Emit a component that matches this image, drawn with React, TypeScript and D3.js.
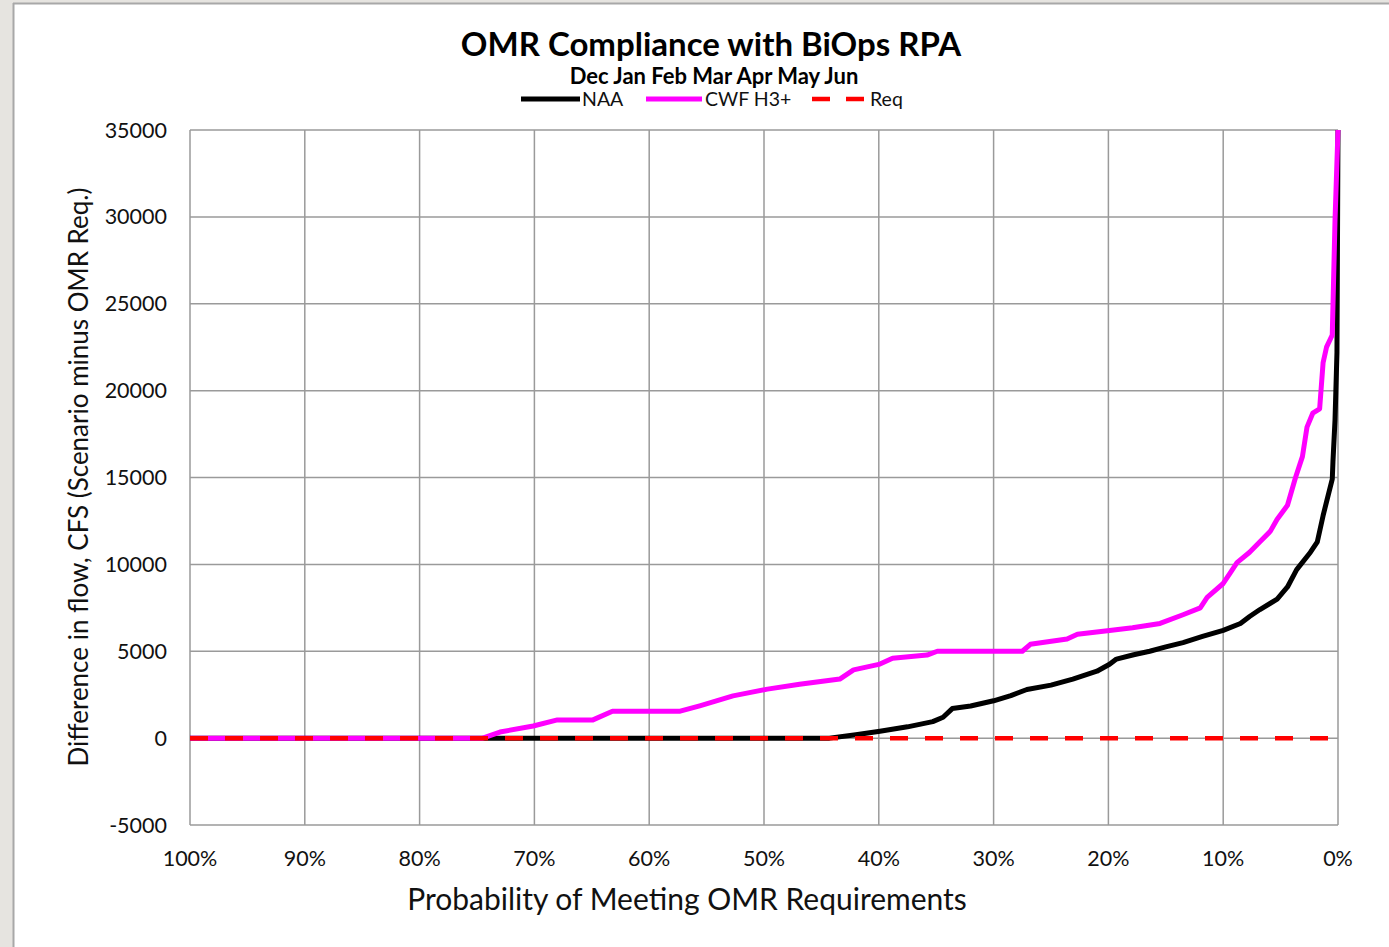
import React from "react";
import * as d3 from "d3";

// Exceedance probability (%) vs difference in flow (cfs)
const naaProb = [100, 44.3, 42.0, 39.9, 37.5, 35.3, 34.4, 33.6, 32.0, 30.0, 28.5, 27.1, 25.0, 23.1, 21.0, 19.9, 19.3, 17.8, 16.4, 15.0, 13.5, 11.8, 10.0, 8.5, 7.7, 6.8, 5.3, 4.4, 3.6, 2.4, 1.8, 1.3, 1.0, 0.5, 0.44, 0.26, 0.09, 0];
const naaVal = [0, 0, 200, 400, 650, 950, 1200, 1700, 1850, 2150, 2450, 2800, 3050, 3400, 3850, 4250, 4550, 4800, 5000, 5250, 5500, 5850, 6200, 6600, 7000, 7400, 8000, 8700, 9700, 10700, 11300, 12800, 13600, 14900, 15900, 18300, 22200, 35000];

const cwfProb = [100, 75.2, 74.5, 73.0, 70.1, 68.0, 64.9, 63.2, 57.3, 55.6, 52.7, 49.7, 46.9, 43.4, 42.2, 39.9, 38.8, 35.8, 34.9, 27.5, 26.8, 23.6, 22.7, 19.9, 17.9, 15.5, 13.5, 12.0, 11.4, 10.0, 9.4, 8.8, 7.7, 6.8, 5.9, 5.3, 4.4, 3.7, 3.1, 2.7, 2.2, 1.6, 1.3, 1.0, 0.5, 0.26, 0];
const cwfVal = [0, 0, 0, 350, 700, 1050, 1050, 1550, 1550, 1860, 2430, 2820, 3100, 3400, 3930, 4260, 4600, 4780, 5000, 5000, 5400, 5700, 5980, 6200, 6350, 6600, 7100, 7500, 8100, 8900, 9500, 10100, 10700, 11300, 11900, 12600, 13400, 15000, 16200, 17900, 18700, 18950, 21600, 22500, 23200, 29800, 35000];

const reqProb = [100, 0];
const reqVal = [0, 0];

const xTicks = [100, 90, 80, 70, 60, 50, 40, 30, 20, 10, 0];
const yTicks = [35000, 30000, 25000, 20000, 15000, 10000, 5000, 0, -5000];

const W = 1389;
const H = 947;
const left = 190, right = 1338, top = 130, bottom = 825;

export default function App() {
  const x = d3.scaleLinear().domain([100, 0]).range([left, right]);
  const y = d3.scaleLinear().domain([-5000, 35000]).range([bottom, top]);
  const line = d3.line<[number, number]>().x(d => x(d[0])).y(d => y(d[1]));
  const zip = (a: number[], b: number[]) => a.map((p, i) => [p, b[i]] as [number, number]);
  const font = "Lato, 'Open Sans', sans-serif";

  return (
    <div style={{ position: "absolute", left: 0, top: 0 }}>
      <svg width={W} height={H} style={{ display: "block" }}>
        <rect x={0} y={0} width={W} height={H} fill="#e6e4e0" />
        <rect x={14} y={4} width={W - 14} height={H - 4} fill="#ffffff" />
        <line x1={13.5} y1={3} x2={13.5} y2={H} stroke="#a8a8a8" strokeWidth={2} />
        <line x1={13} y1={3.5} x2={W} y2={3.5} stroke="#a8a8a8" strokeWidth={2} />

        {/* grid */}
        {yTicks.map(t => (
          <line key={"gy" + t} x1={left} x2={right} y1={y(t)} y2={y(t)} stroke="#9a9a9a" strokeWidth={1.5} />
        ))}
        {xTicks.map(t => (
          <line key={"gx" + t} x1={x(t)} x2={x(t)} y1={top} y2={bottom} stroke="#9a9a9a" strokeWidth={1.5} />
        ))}

        {/* tick labels */}
        {yTicks.map(t => (
          <text key={"ty" + t} x={167} y={y(t)} dy="0.35em" textAnchor="end" fontFamily={font} fontSize={21.5} fill="#111">{t}</text>
        ))}
        {xTicks.map(t => (
          <text key={"tx" + t} x={x(t)} y={866} textAnchor="middle" fontFamily={font} fontSize={21.5} fill="#111">{t + "%"}</text>
        ))}

        {/* series */}
        <path d={line(zip(naaProb, naaVal)) || ""} fill="none" stroke="#000000" strokeWidth={5} strokeLinejoin="round" />
        <path d={line(zip(cwfProb, cwfVal)) || ""} fill="none" stroke="#ff00ff" strokeWidth={5} strokeLinejoin="round" />
        <path d={line(zip(reqProb, reqVal)) || ""} fill="none" stroke="#ff0000" strokeWidth={4.5} strokeDasharray="18,17" />

        {/* titles */}
        <text x={711} y={56} textAnchor="middle" fontFamily={font} fontWeight="bold" fontSize={33} fill="#000">OMR Compliance with BiOps RPA</text>
        <text x={714} y={84} textAnchor="middle" fontFamily={font} fontWeight="bold" fontSize={22} fill="#000">Dec Jan Feb Mar Apr May Jun</text>

        {/* legend */}
        <line x1={521} x2={580} y1={99} y2={99} stroke="#000" strokeWidth={5} />
        <text x={582} y={106} fontFamily={font} fontSize={19.5} fill="#111">NAA</text>
        <line x1={646} x2={702} y1={99} y2={99} stroke="#ff00ff" strokeWidth={5} />
        <text x={705} y={106} fontFamily={font} fontSize={19.5} fill="#111">CWF H3+</text>
        <line x1={812} x2={864} y1={99} y2={99} stroke="#ff0000" strokeWidth={4.5} strokeDasharray="18,16" />
        <text x={870} y={106} fontFamily={font} fontSize={19.5} fill="#111">Req</text>

        <text x={687} y={910} textAnchor="middle" fontFamily={font} fontSize={30} fill="#111">Probability of Meeting OMR Requirements</text>
        <text transform={`translate(88,477) rotate(-90)`} textAnchor="middle" fontFamily={font} fontSize={26} fill="#111">Difference in flow, CFS (Scenario minus OMR Req.)</text>
      </svg>
    </div>
  );
}
